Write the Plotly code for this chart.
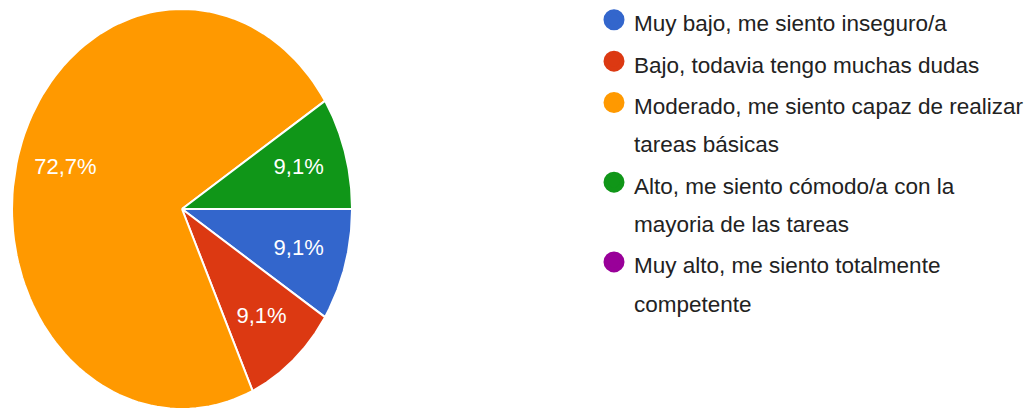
import numpy as np
import plotly.graph_objects as go

# Survey answers: self-assessed level of competence
categories = [
    "Muy bajo, me siento inseguro/a",
    "Bajo, todavia tengo muchas dudas",
    "Moderado, me siento capaz de realizar tareas básicas",
    "Alto, me siento cómodo/a con la mayoria de las tareas",
    "Muy alto, me siento totalmente competente",
]
# Legend text, already split into the lines it is shown on
legend_lines = [
    ["Muy bajo, me siento inseguro/a"],
    ["Bajo, todavia tengo muchas dudas"],
    ["Moderado, me siento capaz de realizar", "tareas básicas"],
    ["Alto, me siento cómodo/a con la", "mayoria de las tareas"],
    ["Muy alto, me siento totalmente", "competente"],
]
responses = [1, 1, 8, 1, 0]
colors = ["#3366CC", "#DC3912", "#FF9900", "#109618", "#990099"]

W, H = 1033, 408
# Pie geometry (axis units equal pixels): centre and the two radii
CX, CY, RX, RY = 182, 209, 170, 200
LABEL_R = 0.715

fig = go.Figure()

total = float(sum(responses))
start = 0.0  # 3 o'clock, slices run clockwise
label_x, label_y, label_txt = [], [], []
for name, v, c in zip(categories, responses, colors):
    if v <= 0:
        continue
    sweep = 2 * np.pi * v / total
    t = np.linspace(start, start + sweep, 120)
    xs = np.concatenate([[CX], CX + RX * np.cos(t), [CX]])
    ys = np.concatenate([[CY], CY + RY * np.sin(t), [CY]])
    fig.add_trace(go.Scatter(
        x=xs, y=ys, mode="lines", fill="toself", fillcolor=c,
        line=dict(color="white", width=2), name=name,
        showlegend=False, hoverinfo="name",
    ))
    mid = start + sweep / 2
    label_x.append(CX + LABEL_R * RX * np.cos(mid))
    label_y.append(CY + LABEL_R * RY * np.sin(mid))
    label_txt.append(f"{100 * v / total:.1f}%".replace(".", ","))
    start += sweep

fig.add_trace(go.Scatter(
    x=label_x, y=label_y, mode="text", text=label_txt,
    textfont=dict(family="Liberation Sans, Arial", size=22, color="white"),
    showlegend=False, hoverinfo="skip",
))

# Legend entries (circle swatches), one per answer option
for lines, c in zip(legend_lines, colors):
    label = "<br>".join(f"<span style='font-size:22.5px'>{ln}</span>" for ln in lines)
    fig.add_trace(go.Scatter(
        x=[None], y=[None], mode="markers", name=label,
        marker=dict(symbol="circle", size=16, color=c, line=dict(color=c, width=5)),
        hoverinfo="skip",
    ))

fig.update_layout(
    width=W, height=H,
    margin=dict(l=0, r=0, t=0, b=0, autoexpand=False),
    paper_bgcolor="white", plot_bgcolor="white",
    xaxis=dict(range=[0, W], visible=False, fixedrange=True),
    yaxis=dict(range=[H, 0], visible=False, fixedrange=True),
    legend=dict(
        x=594 / W, xanchor="left", y=0.2007, yanchor="bottom",
        font=dict(family="Liberation Sans, Arial", size=29.5, color="#222222"),
        valign="top", bgcolor="rgba(0,0,0,0)", borderwidth=0,
        traceorder="normal",
    ),
    showlegend=True,
)

fig.write_html("out.html", config={"displayModeBar": False})
